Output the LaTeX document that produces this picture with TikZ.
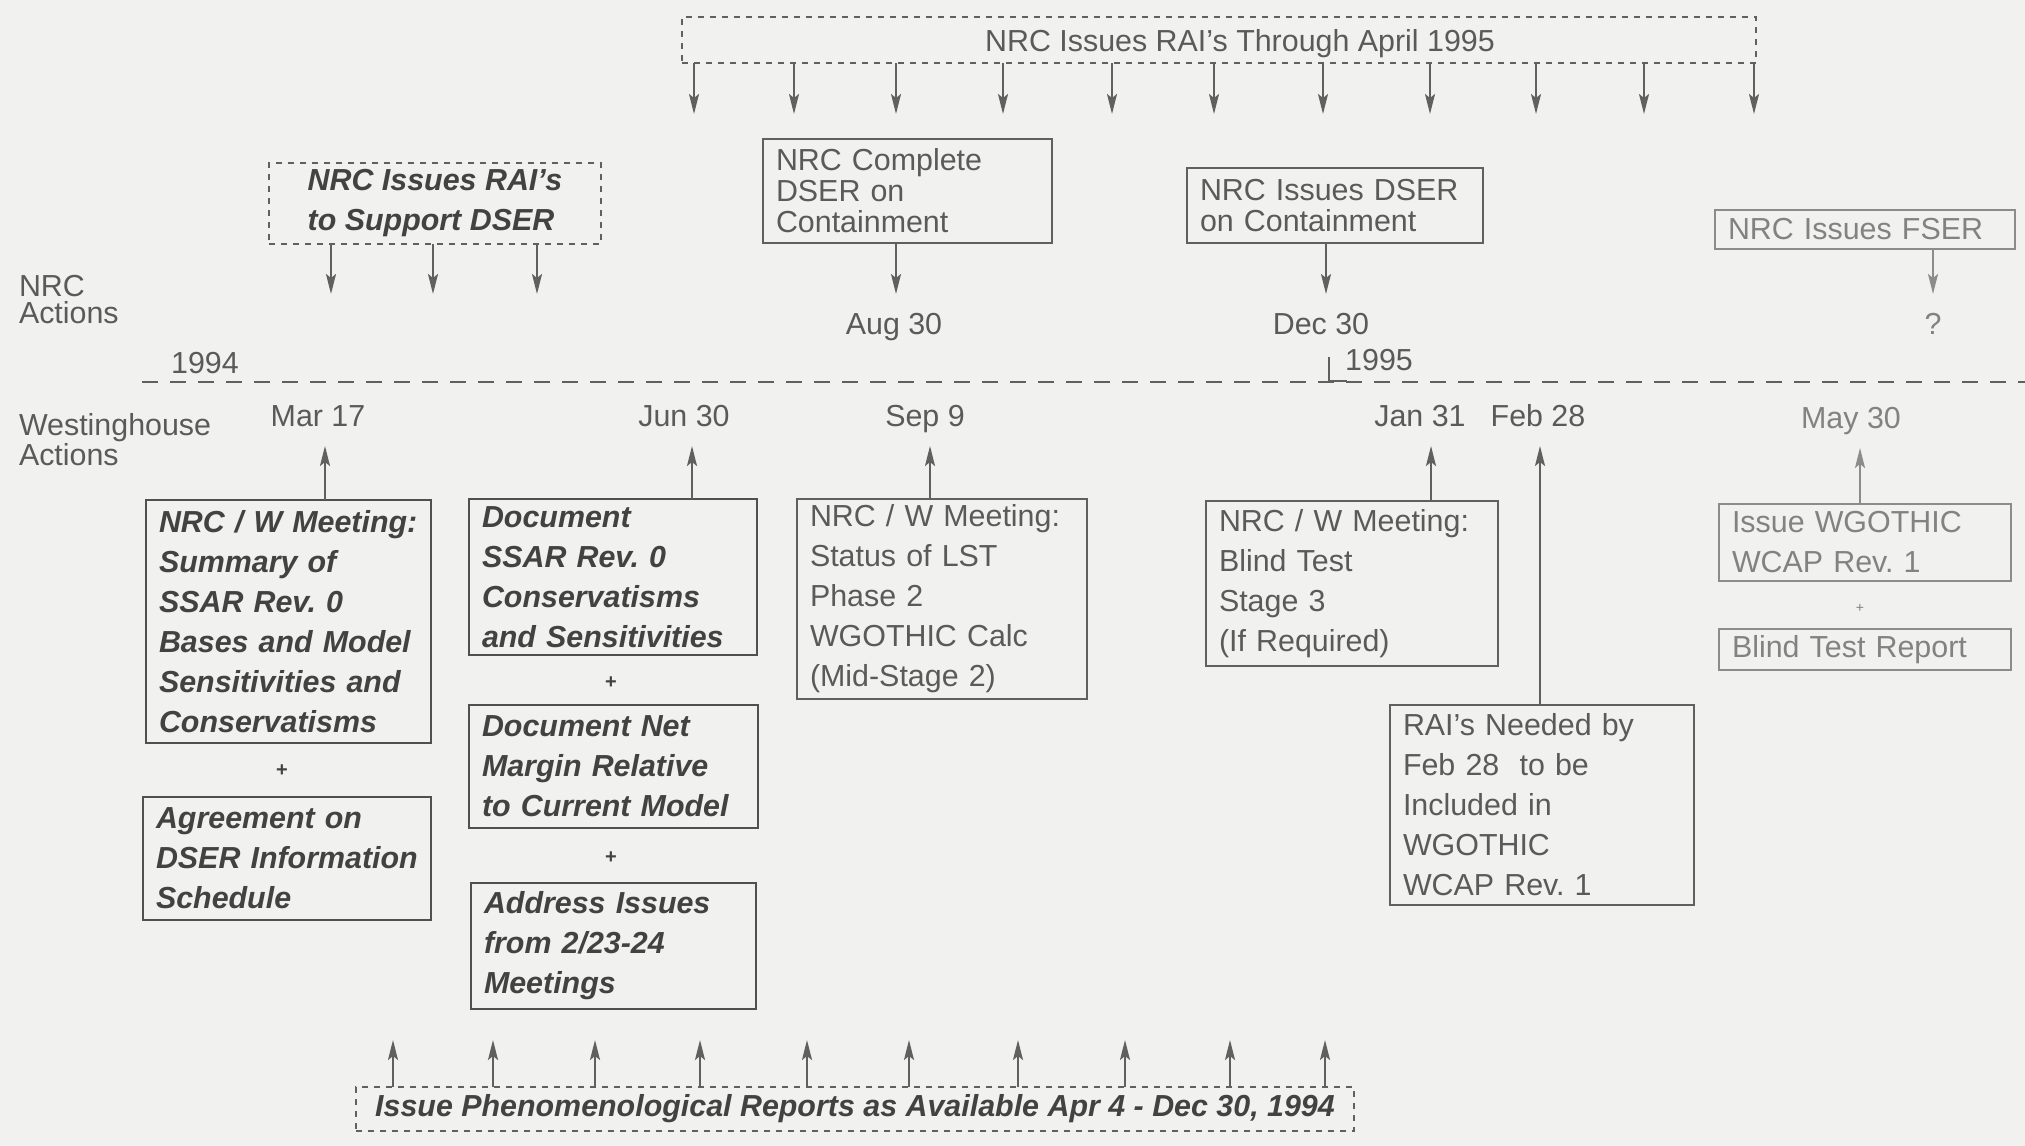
\documentclass[tikz,border=0pt]{standalone}
\usepackage{fontspec}
\setmainfont{Liberation Sans}
\usetikzlibrary{arrows.meta}
\frenchspacing

\begin{document}
\begin{tikzpicture}[x=0.5pt,y=-0.5pt,
  every node/.style={inner sep=0pt, outer sep=0pt},
  txt/.style={text=textColor, font=\fontsize{15.2}{20}\selectfont},
  bitxt/.style={text=darkText, font=\fontsize{15.2}{20}\selectfont\bfseries\itshape},
  boxed/.style={draw=lineColor, line width=1pt, align=left, inner xsep=6.5pt},
  wbox/.style={boxed, bitxt, draw=darkLine},
  nbox/.style={boxed, txt},
  tbox/.style={nbox, font=\fontsize{15.2}{15.5}\selectfont},
  lighttxt/.style={text=lightText},
  lightbox/.style={lighttxt, draw=lightLine},
  dashbox/.style={draw=lineColor, line width=1pt, dash pattern=on 3pt off 3pt},
  arr/.style={draw=lineColor, line width=1.1pt, -{Stealth[length=10pt,width=5pt,inset=2pt]}},
  datelbl/.style={txt, text height=11pt, text depth=0pt},
  plus/.style={bitxt, font=\fontsize{10}{10}\selectfont\bfseries}
]
\definecolor{bgColor}{RGB}{241,241,239}
\definecolor{darkText}{RGB}{66,66,66}
\definecolor{darkLine}{RGB}{80,80,80}
\definecolor{textColor}{RGB}{90,90,90}
\definecolor{lineColor}{RGB}{96,96,96}
\definecolor{lightText}{RGB}{130,130,130}
\definecolor{lightLine}{RGB}{140,140,140}
\path[use as bounding box,fill=bgColor] (0,0) rectangle (2025,1146);

% NRC requests along the top
\node[dashbox, txt, text height=11pt, text depth=0pt, minimum width=537pt, minimum height=23pt] (raiTop) at (1219,40) {\hspace*{21pt}NRC Issues RAI's Through April 1995};
\foreach \x in {694,794,896,1003,1112,1214,1323,1430,1536,1644,1754}
  \draw[arr] (raiTop.south -| \x,0) -- ++(0,51);

\node[dashbox, bitxt, align=left, minimum width=166pt, minimum height=40.5pt] (raiDser) at (435,203.5) {NRC Issues RAI's\\to Support DSER};
\foreach \x in {331,433,537}
  \draw[arr] (raiDser.south -| \x,0) -- ++(0,50);

\node[tbox, text width=131.5pt, minimum height=52pt] (dserDone) at (907.5,191) {NRC Complete\\DSER on\\Containment};
\node[tbox, text width=135pt, minimum height=37.5pt] (dserIss) at (1335,205.5) {NRC Issues DSER\\on Containment};
\node[tbox, lightbox, text width=137pt, minimum height=19.5pt] (fser) at (1865,229.5) {NRC Issues FSER};

\node[datelbl] (aug30) at (894,323) {Aug 30};
\node[datelbl] (dec30) at (1321,323) {Dec 30};
\node[datelbl, lighttxt] (fserDate) at (1933,323) {?};

\draw[arr, shorten >=9pt] (dserDone.south -| 896,0) -- (aug30.north -| 896,0);
\draw[arr, shorten >=9pt] (dserIss.south -| 1326,0) -- (dec30.north -| 1326,0);
\draw[arr, draw=lightLine, shorten >=9pt] (fser.south -| 1933,0) -- (fserDate.north -| 1933,0);

% side labels and time line
\node[txt, align=left, anchor=west, font=\fontsize{15.2}{13.5}\selectfont] (nrcAct) at (19,300) {NRC\\Actions};
\node[txt, align=left, anchor=west, font=\fontsize{15.2}{15}\selectfont] (wAct) at (19,440) {Westinghouse\\Actions};
\node[txt] (y1994) at (205,363) {1994};
\node[txt] (y1995) at (1379,360) {1995};
\draw[lineColor, line width=1pt, dash pattern=on 8pt off 6pt] (142,382) -- (2025,382);
\draw[lineColor, line width=1pt] (1329,357) -- (1329,381) -- (1347,381);

% Westinghouse dates
\node[datelbl] (mar17) at (318,415) {Mar 17};
\node[datelbl] (jun30) at (684,415) {Jun 30};
\node[datelbl] (sep9) at (925,415) {Sep 9};
\node[datelbl] (jan31) at (1420,415) {Jan 31};
\node[datelbl] (feb28) at (1538,415) {Feb 28};
\node[datelbl, lighttxt] (may30) at (1851,417) {May 30};

% Westinghouse actions
\node[wbox, text width=129.5pt, minimum height=121.5pt] (wSumm) at (288.5,621.5) {NRC / W Meeting:\\Summary of\\SSAR Rev. 0\\Bases and Model\\Sensitivities and\\Conservatisms};
\node[plus] (plusA) at (282,771) {+};
\node[wbox, text width=131pt, minimum height=61.5pt] (wAgree) at (287,858.5) {Agreement on\\DSER Information\\Schedule};

\node[wbox, text width=131pt, minimum height=78pt] (wCons) at (613,577) {Document\\SSAR Rev. 0\\Conservatisms\\and Sensitivities};
\node[plus] (plusC) at (611,683) {+};
\node[wbox, text width=131.5pt, minimum height=61.5pt] (wMargin) at (613.5,766.5) {Document Net\\Margin Relative\\to Current Model};
\node[plus] (plusD) at (611,858) {+};
\node[wbox, text width=129.5pt, minimum height=63pt] (wIssues) at (613.5,946) {Address Issues\\from 2/23-24\\Meetings};

\node[nbox, text width=132pt, minimum height=100pt] (wLst) at (942,599) {NRC / W Meeting:\\Status of LST\\Phase 2\\WGOTHIC Calc\\(Mid-Stage 2)};
\node[nbox, text width=133pt, minimum height=82.5pt] (wBlind) at (1352,583.5) {NRC / W Meeting:\\Blind Test\\Stage 3\\(If Required)};
\node[nbox, text width=139pt, minimum height=100pt] (raiNeed) at (1542,805) {RAI's Needed by\\Feb 28~ to be\\Included in\\WGOTHIC\\WCAP Rev. 1};
\node[nbox, lightbox, text width=133pt, minimum height=38.5pt] (wcapRev) at (1865,542.5) {Issue WGOTHIC\\WCAP Rev. 1};
\node[plus, lighttxt, font=\fontsize{7}{7}\selectfont] (plusI) at (1860,608) {+};
\node[nbox, lightbox, text width=133pt, minimum height=20.5pt] (blindRep) at (1865,649.5) {Blind Test Report};

\draw[arr, shorten >=10pt] (wSumm.north -| 325,0) -- (mar17.south -| 325,0);
\draw[arr, shorten >=10pt] (wCons.north -| 692,0) -- (jun30.south -| 692,0);
\draw[arr, shorten >=10pt] (wLst.north -| 930,0) -- (sep9.south -| 930,0);
\draw[arr, shorten >=10pt] (wBlind.north -| 1431,0) -- (jan31.south -| 1431,0);
\draw[arr, shorten >=10pt] (raiNeed.north -| 1540,0) -- (feb28.south -| 1540,0);
\draw[arr, draw=lightLine, shorten >=10pt] (wcapRev.north -| 1860,0) -- (may30.south -| 1860,0);

% phenomenological reports along the bottom
\node[dashbox, bitxt, minimum width=499pt, minimum height=22pt] (phenRep) at (855,1109) {Issue Phenomenological Reports as Available Apr 4 - Dec 30, 1994};
\foreach \x in {393,493,595,700,807,909,1018,1125,1230,1325}
  \draw[arr] (phenRep.north -| \x,0) -- ++(0,-47);
\end{tikzpicture}
\end{document}
